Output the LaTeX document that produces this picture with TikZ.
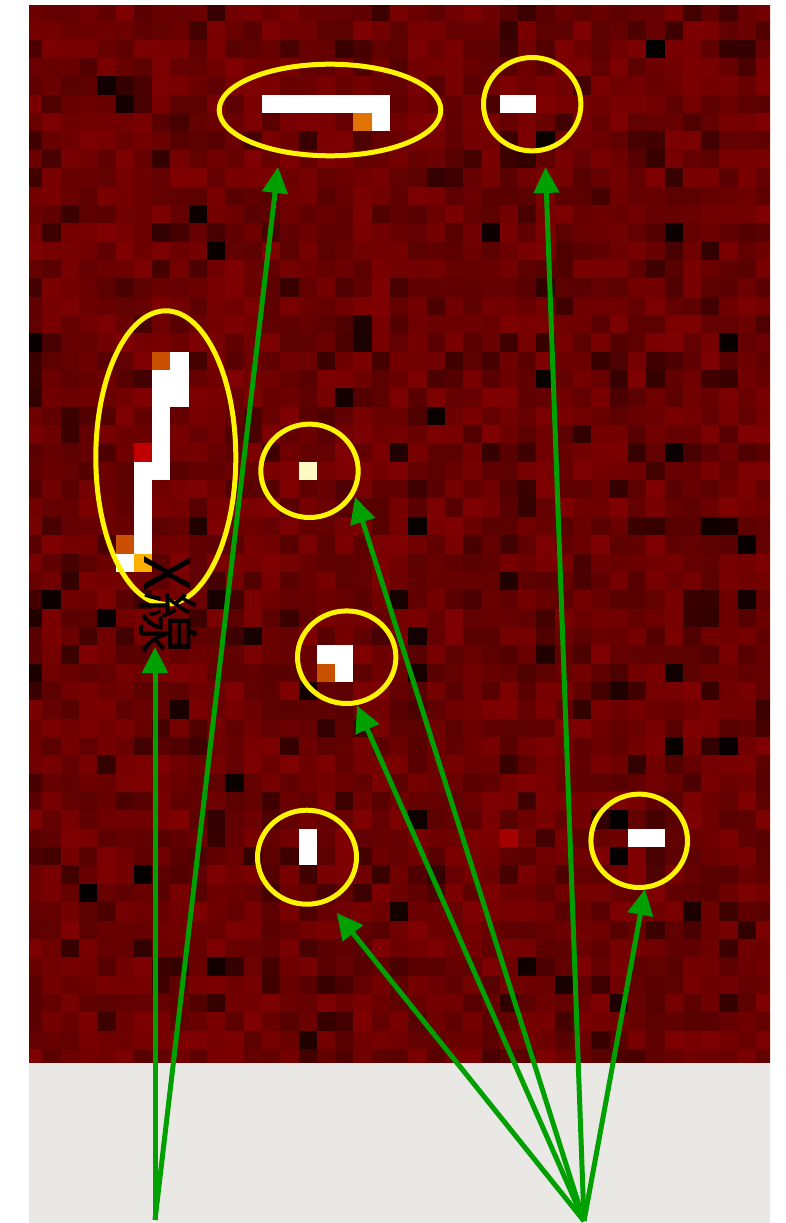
\documentclass[tikz,border=0pt]{standalone}
\usepackage{fontspec}
\newfontfamily\cjk{Noto Sans CJK JP}
\usetikzlibrary{arrows.meta,shapes.geometric}

\definecolor{ringyellow}{RGB}{255,245,0}
\definecolor{arrowgreen}{RGB}{0,160,0}
\definecolor{floorgray}{RGB}{233,232,228}
\definecolor{hotorange}{RGB}{225,115,5}
\definecolor{rustorange}{RGB}{200,80,0}
\definecolor{amber}{RGB}{252,175,0}
\definecolor{hotred}{RGB}{190,0,0}
\definecolor{paleyellow}{RGB}{255,250,195}
\definecolor{warmred}{RGB}{165,0,0}

% one block of detector cells, columns c1..c2 and rows r1..r2
\newcommand\pxblock[5]{%
  \fill[#5] (24+18.3*#1,3+18.35*#2) rectangle (24+18.3*#3+18.3,3+18.35*#4+18.35);}

\begin{document}
\begin{tikzpicture}[x=1pt,y=-1pt,
  ring/.style={draw=ringyellow,line width=5pt,ellipse,inner sep=0pt},
  pointer/.style={draw=arrowgreen,line width=5pt,
    -{Triangle[length=26pt,width=25pt]}},
]
\useasboundingbox (0,0) rectangle (785,1223);

% light strip below the detector image
\fill[floorgray] (29,1062) rectangle (770,1223);

% detector image: noisy dark-red cells
\begin{scope}
\clip (29,6) rectangle (770,1062);
\pgfmathsetseed{20231}
\foreach \c in {0,...,40}{
  \foreach \r in {0,...,57}{
    \pgfmathsetmacro{\u}{rnd}
    \pgfmathtruncatemacro{\v}{\u<0.02 ? 5+30*rnd : (\u<0.13 ? 50+35*rnd : 88+40*rnd)}
    \fill[fill={rgb,255:red,\v;green,0;blue,0}]
      (24+18.3*\c,3+18.35*\r) rectangle ++(18.5,18.55);
  }
}
% hit cells
\pxblock{13}{5}{19}{5}{white}
\pxblock{18}{6}{18}{6}{hotorange}
\pxblock{19}{6}{19}{6}{white}
\pxblock{26}{5}{27}{5}{white}
\pxblock{8}{19}{8}{21}{white}
\pxblock{7}{19}{7}{19}{rustorange}
\pxblock{7}{20}{7}{25}{white}
\pxblock{6}{24}{6}{24}{hotred}
\pxblock{6}{25}{6}{29}{white}
\pxblock{5}{29}{5}{29}{rustorange}
\pxblock{5}{30}{5}{30}{white}
\pxblock{6}{30}{6}{30}{amber}
\pxblock{15}{25}{15}{25}{paleyellow}
\pxblock{16}{35}{17}{35}{white}
\pxblock{16}{36}{16}{36}{rustorange}
\pxblock{17}{36}{17}{36}{white}
\pxblock{15}{45}{15}{46}{white}
\pxblock{33}{45}{34}{45}{white}
\pxblock{26}{45}{26}{45}{warmred}
\end{scope}

% markers round the hits
\node[ring,minimum width=221.6pt,minimum height=91.6pt] (e1) at (330,110) {};
\node[ring,minimum width=97.4pt,minimum height=93.4pt] (e2) at (532.2,104.2) {};
\node[ring,minimum width=140pt,minimum height=293.4pt] (e3) at (165.8,457.5) {};
\node[ring,minimum width=97.4pt,minimum height=93.4pt] (e4) at (309.5,470.8) {};
\node[ring,minimum width=98.4pt,minimum height=92.6pt] (e5) at (346.7,657.2) {};
\node[ring,minimum width=99pt,minimum height=94pt] (e6) at (307,857.2) {};
\node[ring,minimum width=96.6pt,minimum height=93.4pt] (e7) at (639.2,840.8) {};

% label of the track
\node[rotate=-90,inner sep=0pt,font=\cjk\fontsize{63}{63}\selectfont]
  (xlabel) at (168,605) {X線};

% pointers
\coordinate (s1) at (155,1220);
\coordinate (s2) at (584,1221);
\coordinate (t1) at (278,167);
\coordinate (t2) at (545.5,167);
\coordinate (t3) at (155,647);
\coordinate (t4) at (355,497);
\coordinate (t5) at (357,705.5);
\coordinate (t6) at (336.7,913);
\coordinate (t7) at (645,889);

\draw[pointer] (s1) -- (t3);
\draw[pointer] (s1) -- (t1);
\draw[pointer] (s2) -- (t2);
\draw[pointer] (s2) -- (t4);
\draw[pointer] (s2) -- (t5);
\draw[pointer] (s2) -- (t6);
\draw[pointer] (s2) -- (t7);
\end{tikzpicture}
\end{document}
